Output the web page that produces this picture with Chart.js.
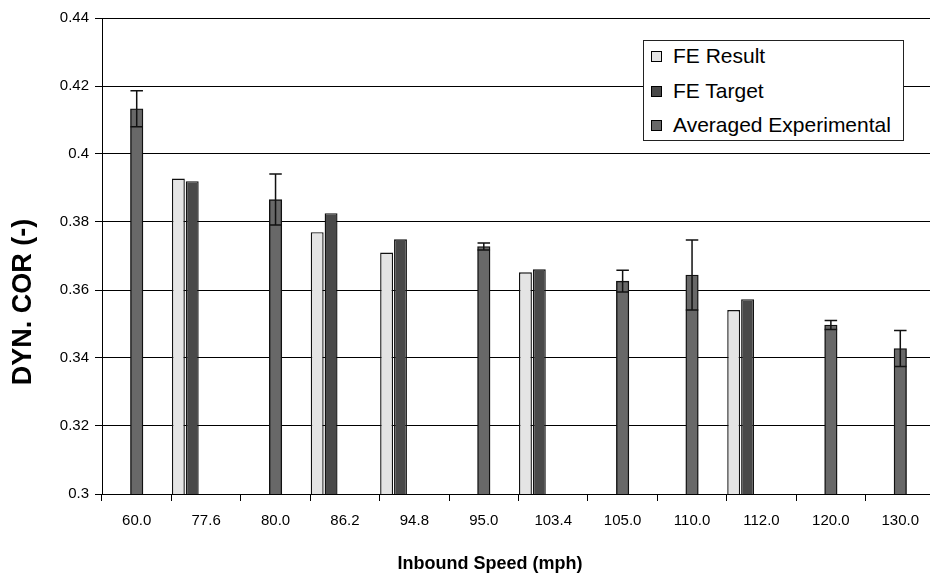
<!DOCTYPE html>
<html>
<head>
<meta charset="utf-8">
<script src="https://cdn.jsdelivr.net/npm/chart.js@4.4.0/dist/chart.umd.min.js"></script>
<style>
  html, body { margin: 0; padding: 0; background: #fff; overflow: hidden; }
  #wrap { position: relative; width: 935px; height: 580px; }
  #wrap, #wrap div { font-family: "Liberation Sans", Arial, sans-serif; color: #000; }
  #legend { position: absolute; left: 643px; top: 40px; width: 259px; height: 99px; border: 1px solid #222; background: #fff; }
  #legend .row { position: absolute; left: 0; height: 24px; line-height: 24px; font-size: 21px; white-space: nowrap; }
  #legend .sw { position: absolute; left: 7px; top: 7px; width: 9px; height: 9px; border: 1px solid #000; }
  #legend .tx { position: absolute; left: 29px; top: 0; }
  .title { position: absolute; font-weight: bold; text-align: center; white-space: nowrap; }
  #xtitle { left: 290px; top: 552px; width: 400px; font-size: 18px; line-height: 22px; }
  #ytitle { left: -128px; top: 286px; width: 300px; font-size: 27px; line-height: 32px; transform: rotate(-90deg); }
</style>
</head>
<body>
<div id="wrap">
  <canvas id="myChart" width="935" height="580"></canvas>
  <div id="legend"></div>
  <div class="title" id="xtitle">Inbound Speed (mph)</div>
  <div class="title" id="ytitle">DYN. COR (-)</div>
</div>
<script>
// data
const labels = ['60.0', '77.6', '80.0', '86.2', '94.8', '95.0', '103.4', '105.0', '110.0', '112.0', '120.0', '130.0'];
const feResult = [null, 0.3928, null, 0.3770, 0.3710, null, 0.3652, null, null, 0.3541, null, null];
const feTarget = [null, 0.3920, null, 0.3826, 0.3749, null, 0.3661, null, null, 0.3573, null, null];
const avgExp = [0.4133, null, 0.3866, null, null, 0.3728, null, 0.3626, 0.3644, null, 0.3497, 0.3428];
const expErr = [0.0053, null, 0.0075, null, null, 0.0010, null, 0.0032, 0.0103, null, 0.0013, 0.0053];
const yTicks = [0.30, 0.32, 0.34, 0.36, 0.38, 0.40, 0.42, 0.44];

Chart.defaults.font.family = '"Liberation Sans", Arial, sans-serif';
Chart.defaults.color = '#000';

// empty datasets only used to push the FE pair to the left of each category
const spacer = () => ({ label: '', data: [], spacer: true, categoryPercentage: 1, barPercentage: 0.93 });

const datasets = [
    {
        label: 'FE Result',
        data: feResult,
        backgroundColor: '#e4e4e4',
        borderColor: '#111',
        borderWidth: 1.4,
        categoryPercentage: 1,
        barPercentage: 0.93
    },
    {
        label: 'FE Target',
        data: feTarget,
        backgroundColor: '#494949',
        borderColor: '#111',
        borderWidth: 1.4,
        categoryPercentage: 1,
        barPercentage: 0.93
    },
    {
        label: 'Averaged Experimental',
        data: avgExp,
        backgroundColor: '#686868',
        borderColor: '#111',
        borderWidth: 1.4,
        grouped: false,
        barThickness: 12.5
    },
    spacer(), spacer(), spacer()
];
const expIndex = 2;

// error bars on the experimental series
const errorBars = {
    id: 'errorBars',
    afterDatasetsDraw(chart) {
        const meta = chart.getDatasetMeta(expIndex);
        const y = chart.scales.y;
        const ctx = chart.ctx;
        ctx.save();
        ctx.strokeStyle = '#111';
        ctx.lineWidth = 1.5;
        meta.data.forEach((bar, i) => {
            const v = avgExp[i], e = expErr[i];
            if (v == null || e == null) return;
            const top = y.getPixelForValue(v + e);
            const bot = y.getPixelForValue(v - e);
            const half = bar.width / 2;
            ctx.beginPath();
            ctx.moveTo(bar.x, top); ctx.lineTo(bar.x, bot);
            ctx.moveTo(bar.x - half, top); ctx.lineTo(bar.x + half, top);
            ctx.moveTo(bar.x - half, bot); ctx.lineTo(bar.x + half, bot);
            ctx.stroke();
        });
        ctx.restore();
    }
};

var ctx = document.getElementById('myChart').getContext('2d');
var chart = new Chart(ctx, {
    type: 'bar',
    data: { labels: labels, datasets: datasets },
    plugins: [errorBars],
    options: {
        responsive: false,
        animation: false,
        layout: { padding: { top: 18, right: 0, bottom: 0, left: 0 } },
        plugins: {
            legend: { display: false },
            tooltip: { enabled: false }
        },
        scales: {
            x: {
                offset: true,
                grid: { offset: true, drawOnChartArea: false, drawTicks: true, tickLength: 7, color: '#000' },
                border: { color: '#000', width: 1 },
                ticks: { font: { size: 15 }, padding: 11, maxRotation: 0, autoSkip: false },
                afterFit: (s) => { s.height = 86; }
            },
            y: {
                min: 0.3,
                max: 0.44,
                grid: { color: '#000', tickLength: 7, drawTicks: true },
                border: { color: '#000', width: 1 },
                ticks: {
                    font: { size: 15 },
                    padding: 6,
                    callback: (v) => String(+Number(v).toFixed(2))
                },
                afterBuildTicks: (axis) => { axis.ticks = yTicks.map(v => ({ value: v })); },
                afterFit: (s) => { s.width = 102; }
            }
        }
    }
});

// legend box
const legend = document.getElementById('legend');
chart.data.datasets.filter(d => !d.spacer).forEach((d, i) => {
    const row = document.createElement('div');
    row.className = 'row';
    row.style.top = (3 + i * 34.5) + 'px';
    row.innerHTML = '<span class="sw" style="background:' + d.backgroundColor + '"></span><span class="tx">' + d.label + '</span>';
    legend.appendChild(row);
});
</script>
</body>
</html>
